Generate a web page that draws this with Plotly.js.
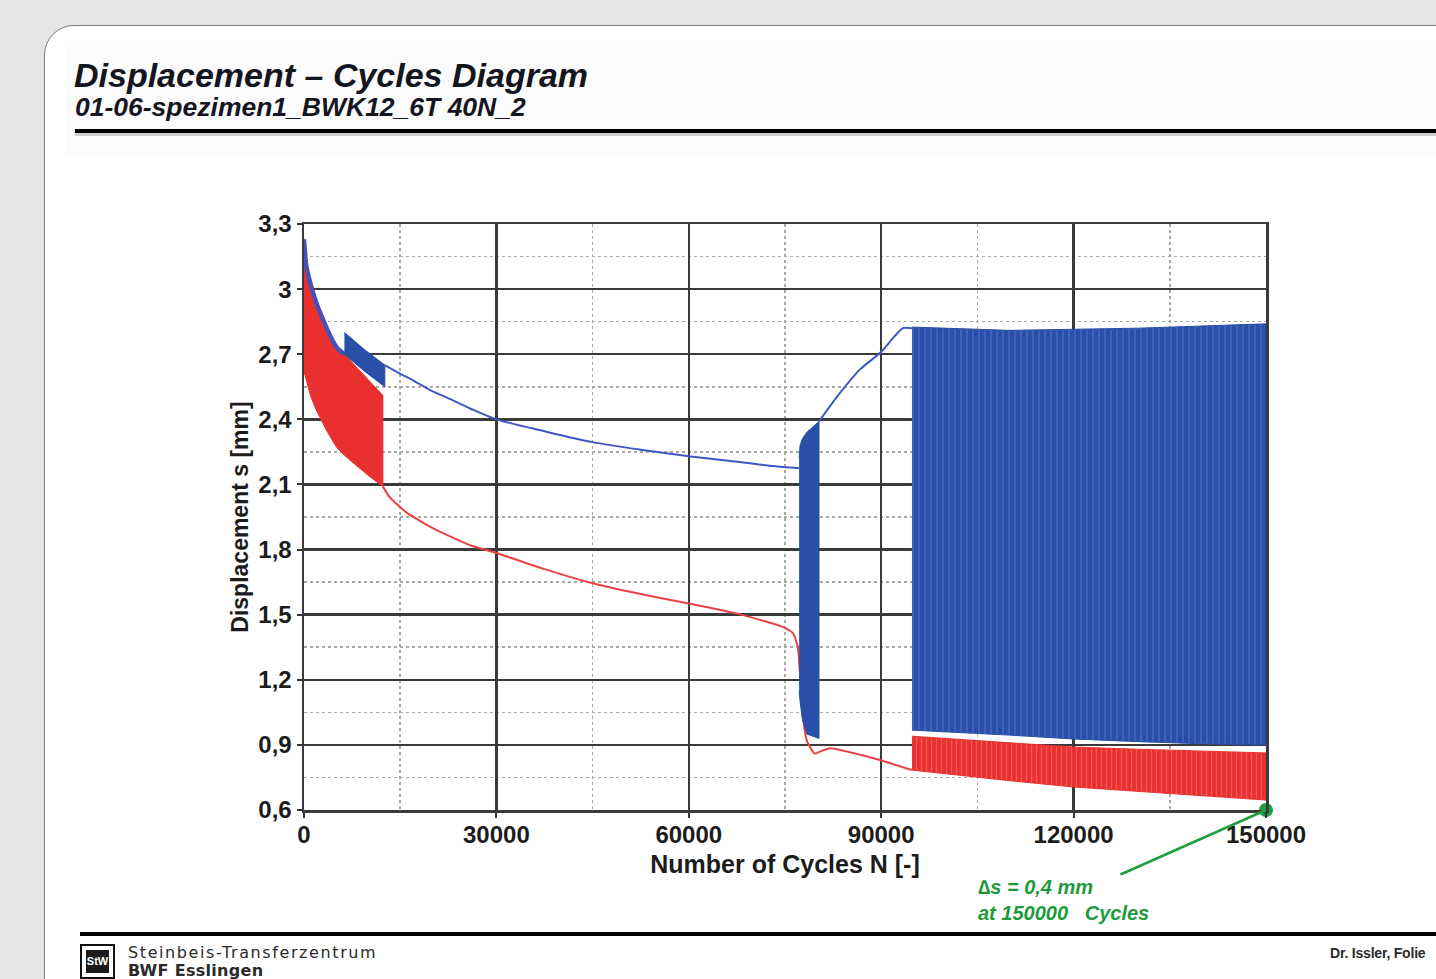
<!DOCTYPE html>
<html>
<head>
<meta charset="utf-8">
<script src="https://cdn.plot.ly/plotly-3.0.1.min.js"></script>
<style>
  html, body { margin:0; padding:0; }
  body { width:1436px; height:979px; background:#e4e5e7; position:relative; overflow:hidden; font-family:"Liberation Sans", Arial, sans-serif; }
  #panel { position:absolute; left:44px; top:25px; width:1460px; height:1000px; background:#fff; border:1.5px solid #7a7a7a; border-top-left-radius:30px; box-sizing:border-box; }
  #titlebox { position:absolute; left:65px; top:47px; width:1400px; height:108px; background:#fbfbfb; }
  .t1 { position:absolute; left:74px; top:58px; font-size:34px; line-height:34px; font-weight:bold; font-style:italic; color:#15151f; letter-spacing:0px; white-space:nowrap; }
  .t2 { position:absolute; left:75px; top:94px; font-size:26.5px; line-height:26px; font-weight:bold; font-style:italic; color:#15151f; letter-spacing:0px; white-space:nowrap; }
  .rule { position:absolute; height:4px; background:#000; }
  .shade { position:absolute; height:3px; background:#cfcfcf; }
  #logo { position:absolute; left:80px; top:944px; width:35px; height:35px; border:2px solid #111; box-sizing:border-box; background:#fff; }
  #logo div { position:absolute; left:4px; top:4px; width:23px; height:23px; background:#1b1b1b; color:#fff; font-size:11px; font-weight:bold; text-align:center; line-height:23px; }
  .foot { position:absolute; left:128px; font-family:"DejaVu Sans", sans-serif; color:#2a2a2a; white-space:nowrap; }
  .dr { position:absolute; left:1330px; top:945px; font-size:14px; font-weight:bold; color:#2a2a2a; white-space:nowrap; letter-spacing:-0.2px; }
  #chart { position:absolute; left:0; top:0; width:1436px; height:979px; }
</style>
</head>
<body>
<div id="panel"></div>
<div id="titlebox"></div>
<div class="t1">Displacement – Cycles Diagram</div>
<div class="t2">01-06-spezimen1_BWK12_6T 40N_2</div>
<div class="rule" style="left:75px; top:129px; width:1400px;"></div>
<div class="shade" style="left:75px; top:133px; width:1400px;"></div>
<div class="rule" style="left:80px; top:932px; width:1400px;"></div>
<div id="logo"><div>StW</div></div>
<div class="foot" style="top:943px; font-size:16px; letter-spacing:1.6px;">Steinbeis-Transferzentrum</div>
<div class="foot" style="top:961px; font-size:16px; font-weight:bold; letter-spacing:0.3px;">BWF Esslingen</div>
<div class="dr">Dr. Issler, Folie</div>
<div id="chart"></div>
<script>
// ---------- tick labels ----------
const xTickVals = [0, 30000, 60000, 90000, 120000, 150000];
const xTickText = ["0", "30000", "60000", "90000", "120000", "150000"];
const yTickVals = [0.6, 0.9, 1.2, 1.5, 1.8, 2.1, 2.4, 2.7, 3.0, 3.3];
const yTickText = ["0,6", "0,9", "1,2", "1,5", "1,8", "2,1", "2,4", "2,7", "3", "3,3"];

// ---------- blue series (upper displacement) ----------
const blueInitX = [0, 400, 1250, 2000, 2960, 4000, 5150, 6300];
const blueInitY = [3.23, 3.10, 3.00, 2.93, 2.86, 2.79, 2.73, 2.70];

const blueBand1X   = [6300, 9500, 12600];
const blueBand1Top = [2.80, 2.72, 2.65];
const blueBand1Bot = [2.70, 2.62, 2.55];

const blueMidX = [12600, 15000, 17000, 20000, 22300, 25900, 30000, 37500, 45000, 52500, 60000, 67500, 74700, 77200];
const blueMidY = [2.65, 2.61, 2.58, 2.53, 2.50, 2.45, 2.40, 2.345, 2.295, 2.26, 2.23, 2.205, 2.18, 2.175];

const blueBand2X   = [77200, 77350, 77700, 78400, 80300];
const blueBand2Top = [2.22, 2.28, 2.31, 2.34, 2.39];
const blueBand2Bot = [1.15, 1.10, 1.02, 0.95, 0.93];

const blueRiseX = [80300, 83270, 86700, 89970, 92000, 93400, 94800];
const blueRiseY = [2.39, 2.51, 2.63, 2.71, 2.78, 2.82, 2.82];

const blueBand3X   = [94800, 100000, 110000, 120000, 130000, 140000, 150000];
const blueBand3Top = [2.825, 2.82, 2.81, 2.815, 2.82, 2.83, 2.84];
const blueBand3Bot = [0.968, 0.96, 0.945, 0.927, 0.915, 0.905, 0.90];

// ---------- red series (lower displacement) ----------
const redBand1TopX = [0, 400, 1250, 2000, 2960, 4000, 5150, 6300, 12300];
const redBand1TopY = [3.23, 3.10, 3.00, 2.93, 2.86, 2.79, 2.73, 2.70, 2.51];
const redBand1BotX = [0, 500, 1000, 1800, 2500, 3500, 5100, 6300, 7650, 9000, 10300, 12300];
const redBand1BotY = [2.62, 2.56, 2.51, 2.45, 2.41, 2.35, 2.27, 2.235, 2.20, 2.165, 2.135, 2.09];

const redMidX = [12300, 13400, 16000, 20000, 25900, 30000, 37500, 45000, 52500, 60200, 68450, 74700, 76250, 77000, 77400, 77800, 78400, 79600, 80500, 82000, 86700, 89800, 94800];
const redMidY = [2.09, 2.04, 1.97, 1.90, 1.82, 1.784, 1.71, 1.645, 1.595, 1.55, 1.498, 1.443, 1.415, 1.35, 1.20, 1.03, 0.92, 0.86, 0.87, 0.885, 0.855, 0.83, 0.784];

const redBand2X   = [94800, 100000, 110000, 120000, 130000, 140000, 150000];
const redBand2Top = [0.94, 0.93, 0.91, 0.89, 0.88, 0.87, 0.863];
const redBand2Bot = [0.784, 0.765, 0.735, 0.706, 0.685, 0.665, 0.646];

// ---------- annotation point ----------
const markX = [150000];
const markY = [0.6];

// ---------- helpers ----------
function polyX(topX, botX) { return topX.concat(botX.slice().reverse()); }
function polyY(topY, botY) { return topY.concat(botY.slice().reverse()); }

const BLUE = '#2a4fa8';
const BLUE_LINE = '#3f58c4';
const RED = '#e9302f';
const RED_LINE = '#e84343';

function band(xT, yT, xB, yB, color, pattern) {
  const t = {
    type: 'scatter', mode: 'lines',
    x: polyX(xT, xB), y: polyY(yT, yB),
    fill: 'toself', fillcolor: color,
    line: {color: color, width: 1},
    hoverinfo: 'skip', showlegend: false
  };
  if (pattern) t.fillpattern = pattern;
  return t;
}
function curve(x, y, color, width, smooth) {
  return {type:'scatter', mode:'lines', x: x, y: y,
          line:{color: color, width: width, shape:'spline', smoothing: smooth},
          hoverinfo:'skip', showlegend:false};
}

const traces = [
  band(redBand1TopX, redBand1TopY, redBand1BotX, redBand1BotY, RED),
  curve(redMidX, redMidY, RED_LINE, 2, 0.5),
  band(redBand2X, redBand2Top, redBand2X, redBand2Bot, RED,
       {shape:'|', fgcolor:'#f25a5a', bgcolor: RED, size: 5, solidity: 0.25}),
  curve(blueInitX, blueInitY, '#4550b8', 4.5, 0.8),
  band(blueBand1X, blueBand1Top, blueBand1X, blueBand1Bot, BLUE),
  curve(blueMidX, blueMidY, BLUE_LINE, 2, 0.8),
  band(blueBand2X, blueBand2Top, blueBand2X, blueBand2Bot, BLUE),
  curve(blueRiseX, blueRiseY, BLUE_LINE, 2, 0.6),
  band(blueBand3X, blueBand3Top, blueBand3X, blueBand3Bot, BLUE,
       {shape:'|', fgcolor:'#4d6cc2', bgcolor: BLUE, size: 6, solidity: 0.2}),
  {type:'scatter', mode:'markers', x: markX, y: markY, cliponaxis:false,
   marker:{color:'#1fa040', size:14, line:{width:0}}, hoverinfo:'skip', showlegend:false}
];

const tickFont = {family:'"Liberation Sans", Arial, sans-serif', size:24, color:'#1c1c1c', weight:'bold'};
const xTitleFont = {family:'"Liberation Sans", Arial, sans-serif', size:25, color:'#1c1c1c', weight:'bold'};
const yTitleFont = {family:'"Liberation Sans", Arial, sans-serif', size:23, color:'#1c1c1c', weight:'bold'};

const layout = {
  width: 1436, height: 979,
  margin: {l:304, r:170, t:224, b:169},
  paper_bgcolor: 'rgba(0,0,0,0)',
  plot_bgcolor: '#ffffff',
  showlegend: false,
  xaxis: {
    range: [0, 150000], tickmode:'array', tickvals: xTickVals, ticktext: xTickText,
    tickfont: tickFont, ticks:'outside', ticklen:5, tickwidth:2, tickcolor:'#333',
    ticklabelstandoff: -3,
    showgrid:true, gridcolor:'#3a3a3a', gridwidth:2.5,
    showline:true, linecolor:'#3a3a3a', linewidth:2.5, mirror:true, zeroline:false,
    minor: {tickmode:'linear', tick0:15000, dtick:30000, showgrid:true, gridcolor:'#a8a8a8', gridwidth:1.5, griddash:'dot'},
    title: {text:'Number of Cycles N [-]', font: xTitleFont, standoff: 8}
  },
  yaxis: {
    range: [0.6, 3.3], tickmode:'array', tickvals: yTickVals, ticktext: yTickText,
    tickfont: tickFont, ticks:'outside', ticklen:5, tickwidth:2, tickcolor:'#333',
    showgrid:true, gridcolor:'#3a3a3a', gridwidth:2.5,
    showline:true, linecolor:'#3a3a3a', linewidth:2.5, mirror:true, zeroline:false,
    minor: {tickmode:'linear', tick0:0.75, dtick:0.3, showgrid:true, gridcolor:'#a8a8a8', gridwidth:1.5, griddash:'dot'},
    title: {text:'Displacement s [mm]', font: yTitleFont, standoff: 4}
  },
  annotations: [{
    x: markX[0], y: markY[0], xref:'x', yref:'y',
    text: '∆s = 0,4 mm<br>at 150000   Cycles',
    showarrow: true, arrowhead: 0, arrowwidth: 2.5, arrowcolor: '#1fa040',
    ax: -203, ay: 90, standoff: 0, align: 'left',
    font: {family:'"Liberation Sans", Arial, sans-serif', size:20, color:'#1e9a3a', style:'italic', weight:'bold'}
  }]
};

Plotly.newPlot('chart', traces, layout, {displayModeBar:false, staticPlot:true});
</script>
</body>
</html>
